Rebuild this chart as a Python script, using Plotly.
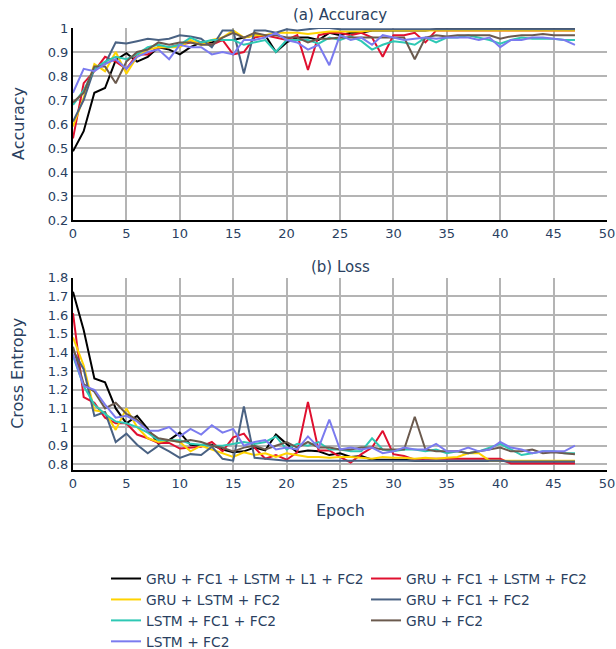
import plotly.graph_objects as go
from plotly.subplots import make_subplots

epochs = list(range(48))

names = ["GRU + FC1 + LSTM + L1 + FC2", "GRU + FC1 + LSTM + FC2", "GRU + LSTM + FC2",
         "GRU + FC1 + FC2", "LSTM + FC1 + FC2", "GRU + FC2", "LSTM + FC2"]
colors = ["#000000", "#e0102f", "#ffd300", "#4a6283", "#2ec8b4", "#6b5a4e", "#7b7bef"]
legend_of = ["legend", "legend2", "legend", "legend2", "legend", "legend2", "legend"]

acc_black = [0.486, 0.57, 0.73, 0.75, 0.866, 0.895, 0.86, 0.88, 0.92, 0.91, 0.89, 0.92, 0.94, 0.94, 0.95, 0.95,
             0.96, 0.97, 0.97, 0.90, 0.94, 0.96, 0.96, 0.95, 0.98, 0.97, 0.98, 0.98, 0.99, 0.99, 0.99, 0.99,
             0.99, 0.99, 0.995, 0.995, 0.995, 0.995, 0.995, 0.995, 0.995, 0.995, 0.995, 0.995, 0.995, 0.995, 0.995, 0.995]
acc_red = [0.54, 0.77, 0.82, 0.88, 0.86, 0.83, 0.89, 0.89, 0.92, 0.92, 0.93, 0.94, 0.94, 0.93, 0.95, 0.89,
           0.90, 0.96, 0.97, 0.96, 0.95, 0.97, 0.825, 0.97, 0.98, 0.98, 0.97, 0.98, 0.96, 0.88, 0.97, 0.97,
           0.98, 0.94, 0.99, 0.99, 0.99, 0.99, 0.99, 0.99, 0.99, 0.99, 0.99, 0.99, 0.99, 0.99, 0.99, 0.99]
acc_yellow = [0.59, 0.71, 0.85, 0.82, 0.90, 0.81, 0.88, 0.91, 0.92, 0.92, 0.92, 0.95, 0.93, 0.95, 0.96, 0.99,
              0.96, 0.97, 0.97, 0.98, 0.98, 0.98, 0.975, 0.98, 0.985, 0.985, 0.985, 0.985, 0.99, 0.99, 0.99, 0.99,
              0.99, 0.99, 0.99, 0.99, 0.99, 0.99, 0.99, 0.99, 0.99, 0.99, 0.99, 0.99, 0.99, 0.99, 0.99, 0.99]
acc_grayblue = [0.61, 0.70, 0.83, 0.85, 0.94, 0.935, 0.945, 0.955, 0.95, 0.955, 0.97, 0.965, 0.955, 0.92, 0.99, 0.99,
                0.81, 0.99, 0.99, 0.98, 0.995, 0.99, 0.995, 1.0, 1.0, 0.995, 0.995, 0.995, 0.995, 0.995, 0.995, 0.995,
                0.995, 0.995, 0.995, 0.995, 0.995, 0.995, 0.995, 0.995, 0.995, 0.995, 0.995, 0.995, 0.995, 0.995, 0.995, 0.995]
acc_teal = [0.68, 0.74, 0.83, 0.86, 0.88, 0.87, 0.89, 0.92, 0.93, 0.92, 0.93, 0.96, 0.94, 0.95, 0.95, 0.95,
            0.93, 0.94, 0.95, 0.90, 0.95, 0.95, 0.95, 0.935, 0.96, 0.95, 0.965, 0.945, 0.91, 0.93, 0.945, 0.94,
            0.93, 0.96, 0.94, 0.96, 0.96, 0.97, 0.96, 0.95, 0.935, 0.95, 0.96, 0.955, 0.955, 0.955, 0.95, 0.95]
acc_brown = [0.69, 0.73, 0.84, 0.84, 0.77, 0.86, 0.90, 0.91, 0.94, 0.93, 0.94, 0.94, 0.93, 0.93, 0.96, 0.98,
             0.96, 0.98, 0.97, 0.97, 0.96, 0.96, 0.94, 0.955, 0.955, 0.96, 0.96, 0.96, 0.96, 0.96, 0.96, 0.96,
             0.87, 0.96, 0.97, 0.965, 0.97, 0.97, 0.97, 0.97, 0.955, 0.965, 0.97, 0.97, 0.975, 0.97, 0.97, 0.97]
acc_purple = [0.73, 0.83, 0.82, 0.85, 0.87, 0.83, 0.88, 0.90, 0.91, 0.87, 0.93, 0.92, 0.92, 0.89, 0.90, 0.89,
              0.95, 0.95, 0.96, 0.98, 0.95, 0.94, 0.91, 0.93, 0.845, 0.97, 0.95, 0.96, 0.93, 0.97, 0.96, 0.95,
              0.955, 0.96, 0.955, 0.96, 0.96, 0.96, 0.95, 0.96, 0.92, 0.95, 0.95, 0.96, 0.96, 0.955, 0.95, 0.93]

loss_black = [1.725, 1.52, 1.26, 1.24, 1.10, 1.02, 1.06, 0.99, 0.91, 0.93, 0.97, 0.905, 0.90, 0.905, 0.88, 0.865,
              0.87, 0.89, 0.875, 0.96, 0.91, 0.865, 0.875, 0.87, 0.85, 0.86, 0.84, 0.845, 0.825, 0.825, 0.825, 0.825,
              0.82, 0.82, 0.82, 0.82, 0.82, 0.82, 0.82, 0.82, 0.82, 0.815, 0.815, 0.815, 0.815, 0.815, 0.815, 0.815]
loss_red = [1.61, 1.16, 1.13, 1.05, 1.02, 1.02, 0.96, 0.94, 0.915, 0.915, 0.885, 0.89, 0.895, 0.92, 0.87, 0.945,
            0.965, 0.89, 0.83, 0.85, 0.825, 0.865, 1.135, 0.875, 0.875, 0.84, 0.81, 0.855, 0.89, 0.98, 0.855, 0.845,
            0.825, 0.83, 0.83, 0.83, 0.83, 0.83, 0.83, 0.83, 0.83, 0.805, 0.805, 0.805, 0.805, 0.805, 0.805, 0.805]
loss_yellow = [1.48, 1.33, 1.09, 1.08, 0.985, 1.10, 1.00, 0.94, 0.92, 0.93, 0.92, 0.87, 0.90, 0.88, 0.86, 0.84,
               0.865, 0.85, 0.86, 0.84, 0.86, 0.85, 0.84, 0.84, 0.835, 0.84, 0.84, 0.835, 0.83, 0.84, 0.835, 0.835,
               0.83, 0.835, 0.83, 0.835, 0.84, 0.86, 0.86, 0.82, 0.82, 0.82, 0.82, 0.82, 0.82, 0.82, 0.82, 0.82]
loss_grayblue = [1.41, 1.31, 1.06, 1.08, 0.92, 0.965, 0.905, 0.86, 0.90, 0.87, 0.835, 0.855, 0.85, 0.895, 0.83, 0.82,
                 1.11, 0.835, 0.83, 0.825, 0.82, 0.82, 0.82, 0.82, 0.82, 0.82, 0.82, 0.82, 0.82, 0.82, 0.82, 0.82,
                 0.82, 0.82, 0.82, 0.82, 0.82, 0.82, 0.82, 0.82, 0.82, 0.815, 0.815, 0.815, 0.815, 0.815, 0.815, 0.815]
loss_teal = [1.38, 1.22, 1.12, 1.07, 1.03, 1.02, 1.00, 0.97, 0.93, 0.93, 0.93, 0.91, 0.905, 0.90, 0.90, 0.91,
             0.92, 0.91, 0.92, 0.95, 0.88, 0.91, 0.90, 0.92, 0.88, 0.88, 0.87, 0.87, 0.94, 0.88, 0.87, 0.88,
             0.88, 0.87, 0.88, 0.86, 0.87, 0.86, 0.87, 0.89, 0.91, 0.88, 0.85, 0.86, 0.87, 0.87, 0.86, 0.86]
loss_brown = [1.43, 1.23, 1.19, 1.10, 1.13, 1.07, 1.04, 0.98, 0.94, 0.93, 0.92, 0.93, 0.92, 0.90, 0.89, 0.87,
              0.89, 0.90, 0.88, 0.90, 0.92, 0.89, 0.92, 0.89, 0.89, 0.88, 0.88, 0.89, 0.89, 0.88, 0.88, 0.88,
              1.055, 0.88, 0.87, 0.87, 0.87, 0.86, 0.87, 0.88, 0.89, 0.87, 0.87, 0.88, 0.86, 0.865, 0.86, 0.855]
loss_purple = [1.39, 1.22, 1.20, 1.12, 1.05, 1.06, 1.03, 0.98, 0.98, 1.00, 0.95, 0.99, 0.96, 1.01, 0.97, 0.99,
               0.90, 0.92, 0.93, 0.88, 0.89, 0.88, 0.95, 0.89, 1.04, 0.88, 0.89, 0.88, 0.89, 0.86, 0.87, 0.89,
               0.88, 0.88, 0.91, 0.87, 0.87, 0.89, 0.87, 0.88, 0.92, 0.89, 0.88, 0.86, 0.87, 0.87, 0.87, 0.90]

acc = [acc_black, acc_red, acc_yellow, acc_grayblue, acc_teal, acc_brown, acc_purple]
loss = [loss_black, loss_red, loss_yellow, loss_grayblue, loss_teal, loss_brown, loss_purple]

x_ticks = [0, 5, 10, 15, 20, 25, 30, 35, 40, 45, 50]
acc_ticks = [0.2, 0.3, 0.4, 0.5, 0.6, 0.7, 0.8, 0.9, 1.0]
acc_ticktext = ["0.2", "0.3", "0.4", "0.5", "0.6", "0.7", "0.8", "0.9", "1"]
loss_ticks = [0.8, 0.9, 1.0, 1.1, 1.2, 1.3, 1.4, 1.5, 1.6, 1.7, 1.8]
loss_ticktext = ["0.8", "0.9", "1", "1.1", "1.2", "1.3", "1.4", "1.5", "1.6", "1.7", "1.8"]

FONT = "DejaVu Sans"
TXT = "#2a3f5f"

fig = make_subplots(rows=2, cols=1, vertical_spacing=0.13)
for i in range(7):
    fig.add_trace(go.Scatter(x=epochs, y=acc[i], mode="lines", name=names[i], legend=legend_of[i],
                             line=dict(color=colors[i], width=2), legendgroup=names[i]), row=1, col=1)
for i in range(7):
    fig.add_trace(go.Scatter(x=epochs, y=loss[i], mode="lines", name=names[i], showlegend=False,
                             line=dict(color=colors[i], width=2), legendgroup=names[i]), row=2, col=1)

axis_common = dict(showgrid=True, gridcolor="#b4b4b4", gridwidth=1.5, showline=True, linecolor="black",
                   linewidth=2, zeroline=False, ticks="", tickfont=dict(size=13, color=TXT, family=FONT))
fig.update_xaxes(range=[0, 50], tickvals=x_ticks, **axis_common)
fig.update_yaxes(**axis_common)
fig.update_yaxes(range=[0.2, 1.0], tickvals=acc_ticks, ticktext=acc_ticktext, row=1, col=1)
fig.update_yaxes(range=[0.77, 1.8], tickvals=loss_ticks, ticktext=loss_ticktext, row=2, col=1)

leg_common = dict(orientation="v", yanchor="top", xanchor="left", font=dict(size=13.8, color=TXT, family=FONT),
                  bgcolor="rgba(0,0,0,0)", tracegroupgap=0)

fig.update_layout(
    width=616, height=649,
    margin=dict(l=73, r=9, t=28, b=179, autoexpand=False),
    paper_bgcolor="white", plot_bgcolor="white",
    font=dict(family=FONT, color=TXT, size=13),
    yaxis=dict(domain=[0.5656, 1.0]),
    yaxis2=dict(domain=[0.0, 0.435]),
    showlegend=True,
    legend=dict(x=0.0618, y=-0.2105, **leg_common),
    legend2=dict(x=0.5487, y=-0.2105, **leg_common),
    annotations=[
        dict(text="(a) Accuracy", xref="paper", yref="paper", x=0.5, y=1.029, xanchor="center",
             yanchor="middle", showarrow=False, font=dict(size=15, color=TXT, family=FONT)),
        dict(text="(b) Loss", xref="paper", yref="paper", x=0.5, y=0.4593, xanchor="center",
             yanchor="middle", showarrow=False, font=dict(size=15, color=TXT, family=FONT)),
        dict(text="Accuracy", xref="paper", yref="paper", x=0, xshift=-55, y=0.7828, xanchor="center",
             yanchor="middle", textangle=-90, showarrow=False, font=dict(size=16, color=TXT, family=FONT)),
        dict(text="Cross Entropy", xref="paper", yref="paper", x=0, xshift=-55, y=0.2175, xanchor="center",
             yanchor="middle", textangle=-90, showarrow=False, font=dict(size=16, color=TXT, family=FONT)),
        dict(text="Epoch", xref="paper", yref="paper", x=0.5, y=-0.0927, xanchor="center",
             yanchor="middle", showarrow=False, font=dict(size=16, color=TXT, family=FONT)),
    ],
)

fig.write_html("out.html", config={"displayModeBar": False},
               post_script="document.body.style.margin='0';")
